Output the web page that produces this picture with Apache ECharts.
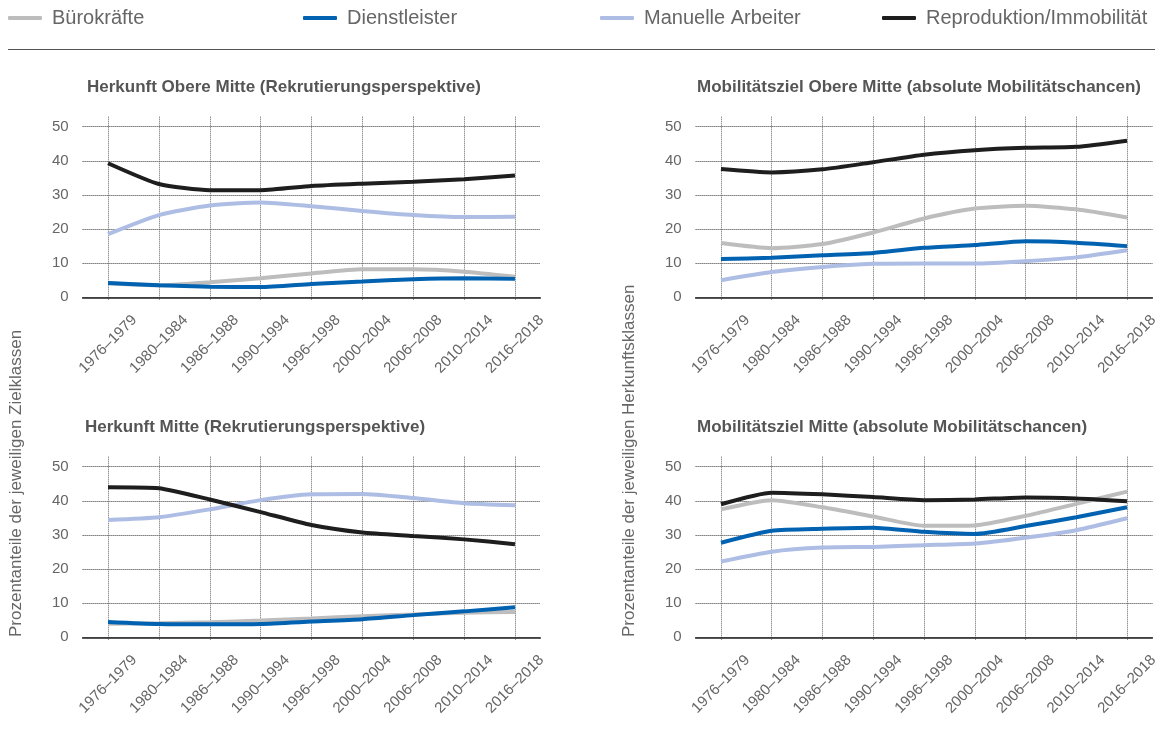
<!DOCTYPE html>
<html><head><meta charset="utf-8">
<script src="https://cdn.jsdelivr.net/npm/echarts@6/dist/echarts.min.js"></script>
<style>html,body{margin:0;padding:0;background:#fff}#c{width:1157px;height:734px}</style>
</head><body><div id="c"></div>
<script>
// ---- data ----
const categories = ['1976–1979','1980–1984','1986–1988','1990–1994','1996–1998','2000–2004','2006–2008','2010–2014','2016–2018'];
const seriesNames = ['Bürokräfte','Dienstleister','Manuelle Arbeiter','Reproduktion/Immobilität'];
const panelTitles = [
  'Herkunft Obere Mitte (Rekrutierungsperspektive)',
  'Mobilitätsziel Obere Mitte (absolute Mobilitätschancen)',
  'Herkunft Mitte (Rekrutierungsperspektive)',
  'Mobilitätsziel Mitte (absolute Mobilitätschancen)'
];
const yAxisTitleLeft = 'Prozentanteile der jeweiligen Zielklassen';
const yAxisTitleRight = 'Prozentanteile der jeweiligen Herkunftsklassen';
const yMin = 0, yMax = 50, yStep = 10;

// Herkunft Obere Mitte
const hoBuero   = [4.1, 3.5, 4.4, 5.6, 7.0, 8.2, 8.2, 7.5, 6.0];
const hoDienst  = [4.2, 3.5, 3.1, 3.0, 3.9, 4.6, 5.3, 5.6, 5.4];
const hoManuell = [18.5, 24.1, 26.9, 27.8, 26.7, 25.3, 24.1, 23.5, 23.6];
const hoRepro   = [39.3, 33.2, 31.4, 31.4, 32.6, 33.3, 33.9, 34.6, 35.7];
// Mobilitätsziel Obere Mitte
const moBuero   = [15.9, 14.4, 15.6, 19.0, 23.1, 26.0, 26.8, 25.8, 23.4];
const moDienst  = [11.2, 11.6, 12.3, 13.0, 14.5, 15.3, 16.4, 16.0, 15.0];
const moManuell = [5.0, 7.4, 8.9, 9.8, 9.9, 9.9, 10.6, 11.7, 13.8];
const moRepro   = [37.6, 36.6, 37.5, 39.6, 41.8, 43.1, 43.8, 44.1, 45.9];
// Herkunft Mitte
const hmBuero   = [4.0, 4.1, 4.4, 4.9, 5.5, 6.2, 6.7, 7.2, 7.4];
const hmDienst  = [4.5, 3.9, 3.8, 3.9, 4.6, 5.3, 6.5, 7.6, 8.8];
const hmManuell = [34.4, 35.2, 37.5, 40.2, 41.9, 42.0, 40.8, 39.3, 38.7];
const hmRepro   = [44.0, 43.7, 40.4, 36.7, 32.9, 30.7, 29.7, 28.7, 27.3];
// Mobilitätsziel Mitte
const mmBuero   = [37.5, 40.2, 38.1, 35.4, 32.7, 32.8, 35.6, 39.1, 42.7];
const mmDienst  = [27.7, 31.2, 31.8, 32.1, 30.9, 30.3, 32.6, 35.2, 38.1];
const mmManuell = [22.2, 25.1, 26.3, 26.5, 27.0, 27.5, 29.2, 31.4, 34.9];
const mmRepro   = [39.0, 42.4, 41.9, 41.1, 40.2, 40.4, 41.0, 40.7, 39.9];

const panelData = [
  [hoBuero, hoDienst, hoManuell, hoRepro],
  [moBuero, moDienst, moManuell, moRepro],
  [hmBuero, hmDienst, hmManuell, hmRepro],
  [mmBuero, mmDienst, mmManuell, mmRepro]
];

// ---- styling / layout ----
const colors = ['#bdbdbd', '#0062b0', '#aebde4', '#1e1e1e'];
const FONT = 'Liberation Sans, Arial, sans-serif';
const panels = [
  {left: 82.6, top: 126.7, width: 457.8, height: 170.6, titleLeft: 87, titleTop: 79},
  {left: 695.6, top: 126.7, width: 456.8, height: 170.6, titleLeft: 697, titleTop: 79},
  {left: 82.6, top: 466.7, width: 457.8, height: 170.6, titleLeft: 85, titleTop: 419},
  {left: 695.6, top: 466.7, width: 456.8, height: 170.6, titleLeft: 697, titleTop: 419}
];
const legendLefts = [8, 303, 600, 882];

const grid = [], xAxis = [], yAxis = [], series = [], title = [];
panels.forEach((p, i) => {
  grid.push({left: p.left, top: p.top, width: p.width, height: p.height, containLabel: false, outerBoundsMode: 'none'});
  xAxis.push({
    type: 'category', gridIndex: i, data: categories, boundaryGap: true,
    axisLine: {lineStyle: {color: '#222', width: 1.5}},
    axisTick: {show: false},
    splitLine: {show: false},
    axisLabel: {interval: 0, rotate: 45, align: 'center', verticalAlign: 'middle', margin: 47,
      fontSize: 15, color: '#666', fontFamily: FONT}
  });
  yAxis.push({
    type: 'value', gridIndex: i, min: yMin, max: yMax, interval: yStep,
    axisLine: {show: false}, axisTick: {show: false},
    axisLabel: {fontSize: 15, color: '#666', margin: 14, fontFamily: FONT},
    splitLine: {lineStyle: {type: 'dotted', color: '#333', width: 1}}
  });
  title.push({
    text: panelTitles[i], left: p.titleLeft, top: p.titleTop, padding: 0,
    textStyle: {fontSize: 17, fontWeight: 'bold', color: '#555', fontFamily: FONT}
  });
  panelData[i].forEach((vals, k) => {
    series.push({
      name: seriesNames[k], type: 'line', xAxisIndex: i, yAxisIndex: i,
      data: vals, smooth: 0.2, symbol: 'none', showSymbol: false,
      lineStyle: {color: colors[k], width: 4},
      itemStyle: {color: colors[k]},
      emphasis: {disabled: true}, z: 3 + k
    });
  });
});
// overlay grids for vertical dotted lines at category centres
panels.forEach((p, i) => {
  const band = p.width / categories.length;
  const gi = grid.length;
  grid.push({left: p.left + band / 2, top: p.top - 10, width: p.width - band, height: p.height + 13,
    containLabel: false, outerBoundsMode: 'none'});
  xAxis.push({
    type: 'category', gridIndex: gi, data: categories, boundaryGap: false,
    axisLine: {show: false}, axisTick: {show: false}, axisLabel: {show: false},
    splitLine: {show: true, interval: 0, lineStyle: {type: 'dotted', color: '#666', width: 1}},
    z: 0
  });
  yAxis.push({type: 'value', gridIndex: gi, min: 0, max: 1, show: false});
});

const legend = seriesNames.map((n, k) => ({
  data: [n], left: legendLefts[k], top: 8, padding: 0,
  icon: 'roundRect', itemWidth: 34, itemHeight: 4,
  textStyle: {fontSize: 20, color: '#666', fontFamily: FONT, padding: [0, 0, 0, 5]},
  selectedMode: false
}));

const option = {
  animation: false,
  backgroundColor: '#fff',
  title, legend, grid, xAxis, yAxis, series,
  graphic: [
    {type: 'line', shape: {x1: 8, y1: 49.5, x2: 1155, y2: 49.5}, style: {stroke: '#555', lineWidth: 1.2}},
    {type: 'text', x: 16, y: 637, rotation: Math.PI / 2,
      style: {text: yAxisTitleLeft, fontSize: 17, fill: '#666', fontFamily: FONT, textAlign: 'left', textVerticalAlign: 'middle'}},
    {type: 'text', x: 629, y: 637, rotation: Math.PI / 2,
      style: {text: yAxisTitleRight, fontSize: 17, fill: '#666', fontFamily: FONT, textAlign: 'left', textVerticalAlign: 'middle'}}
  ]
};
echarts.init(document.getElementById('c'), null, {renderer: 'canvas'}).setOption(option);
</script></body></html>
